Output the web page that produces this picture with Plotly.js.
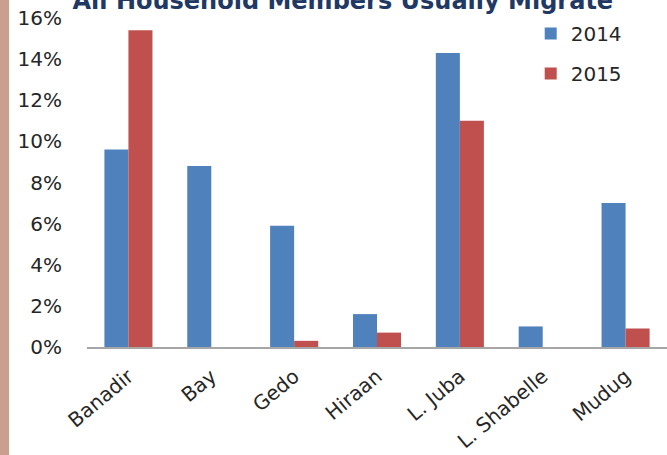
<!DOCTYPE html>
<html>
<head>
<meta charset="utf-8">
<script src="https://cdn.plot.ly/plotly-3.0.1.min.js"></script>
<style>
html,body{margin:0;padding:0;background:#fff;}
#wrap{position:relative;width:667px;height:455px;overflow:hidden;}
#strip{position:absolute;left:0;top:0;width:9px;height:455px;background:#c9a08f;}
#chart{position:absolute;left:0;top:0;width:667px;height:455px;}
</style>
</head>
<body>
<div id="wrap"><div id="chart"></div><div id="strip"></div></div>
<script>
const categories = ["Banadir", "Bay", "Gedo", "Hiraan", "L. Juba", "L. Shabelle", "Mudug"];
const values2014 = [0.096, 0.088, 0.059, 0.016, 0.143, 0.010, 0.070];
const values2015 = [0.154, 0, 0.003, 0.007, 0.110, 0, 0.009];
const seriesNames = ["2014", "2015"];
const titleText = "All Household Members Usually Migrate";

const FONT = "DejaVu Sans, sans-serif";

const traces = [
  {type: "bar", name: seriesNames[0], x: categories, y: values2014,
   marker: {color: "#4f81bd"}, legendgroup: "a"},
  {type: "bar", name: seriesNames[1], x: categories, y: values2015,
   marker: {color: "#c0504d"}, legendgroup: "b"}
];

const layout = {
  width: 667, height: 455,
  margin: {l: 87, r: 0, t: 18, b: 108},
  paper_bgcolor: "#ffffff", plot_bgcolor: "#ffffff",
  font: {family: FONT, size: 19, color: "#262626"},
  barmode: "group", bargap: 0.42, bargroupgap: 0,
  title: {text: "<b>" + titleText + "</b>", font: {family: FONT, size: 24, color: "#1f3864"},
          x: 0.514, xanchor: "center", xref: "container", y: 0.998, yref: "container", yanchor: "middle"},
  xaxis: {range: [-0.5, 6.5], tickangle: -40, showline: true, linecolor: "#a6a6a6", linewidth: 2,
          ticks: "", showgrid: false, zeroline: false, ticklabelstandoff: 8,
          tickfont: {family: FONT, size: 20, color: "#262626"}},
  yaxis: {range: [0, 0.16], dtick: 0.02, tickformat: ".0%", showgrid: false, zeroline: false,
          showline: false, ticks: "", ticklabelstandoff: 24, tickfont: {family: FONT, size: 20, color: "#262626"}},
  legend: {x: 0.765, xanchor: "left", y: 1.012, yanchor: "top", bgcolor: "rgba(0,0,0,0)",
           font: {family: FONT, size: 20, color: "#262626"}, tracegroupgap: 11}
};

Plotly.newPlot("chart", traces, layout, {displayModeBar: false, staticPlot: true});
</script>
</body>
</html>
